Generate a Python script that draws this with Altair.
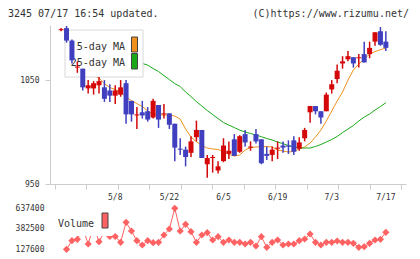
import altair as alt
import numpy as np
import pandas as pd

# ---- daily prices (trading-day index 0..60) ----
opens = [1098, 1100, 1088, 1062, 1061, 1042, 1042, 1045, 1043, 1040,
         1035, 1036, 1047, 1030, 1016, 1019, 1020, 1014, 1026, 1017,
         1018, 1008, 984, 983, 980, 995, 1002, 969, 975, 963,
         972, 979, 993, 981, 998, 985, 998, 993, 979, 978,
         984, 987, 987, 992, 984, 994, 1019, 1025, 1020, 1020,
         1041, 1051, 1066, 1070, 1072, 1071, 1075, 1075, 1087, 1097,
         1087]
highs = [1100, 1102, 1089, 1068, 1061, 1050, 1049, 1053, 1050, 1046,
         1045, 1050, 1050, 1030, 1024, 1030, 1024, 1032, 1026, 1027,
         1018, 1008, 994, 986, 996, 1011, 1002, 978, 978, 972,
         994, 991, 998, 997, 1002, 991, 1003, 993, 986, 986,
         991, 991, 992, 996, 995, 1004, 1025, 1025, 1020, 1038,
         1050, 1065, 1073, 1078, 1072, 1075, 1087, 1087, 1096, 1101,
         1097]
lows = [1097, 1086, 1066, 1057, 1040, 1037, 1036, 1037, 1029, 1029,
        1027, 1034, 1008, 1010, 1003, 1013, 1010, 1013, 1004, 1013,
        1003, 972, 978, 967, 976, 991, 975, 956, 961, 960,
        971, 974, 977, 980, 986, 982, 989, 969, 973, 972,
        974, 980, 979, 978, 982, 991, 1009, 1017, 1008, 1020,
        1037, 1047, 1061, 1068, 1062, 1062, 1067, 1071, 1083, 1083,
        1078]
closes = [1099, 1088, 1069, 1063, 1043, 1045, 1047, 1049, 1032, 1035,
          1040, 1043, 1017, 1017, 1017, 1016, 1012, 1030, 1012, 1018,
          1007, 985, 983, 976, 991, 1002, 975, 975, 976, 967,
          987, 982, 977, 996, 990, 986, 991, 970, 977, 983,
          985, 985, 986, 981, 990, 1002, 1025, 1020, 1014, 1036,
          1046, 1059, 1068, 1073, 1066, 1072, 1067, 1081, 1096, 1084,
          1081]

# 5-day moving average, days 3..60
ma5_start = 3
ma5 = [1075, 1072, 1062, 1054, 1051.9, 1046.6, 1042.8, 1040.9, 1038.5, 1033.7,
       1030.3, 1027.4, 1024.5, 1020.2, 1017.3, 1016.8, 1016.3, 1016.3, 1015.4, 1012.5,
       1002.9, 995.2, 990.7, 987.0, 984.6, 983.7, 983.2, 981.3, 978.4, 976.9,
       977.9, 982.7, 985.1, 985.6, 985.9, 986.1, 985.6, 982.7, 981.7, 980.8,
       981.3, 983.7, 985.6, 989.4, 995.2, 1001.9, 1010.6, 1020.2, 1029.8, 1038.5,
       1050.0, 1059.6, 1065.4, 1070.2, 1075.0, 1077.4, 1079.3, 1080.8]

# 25-day moving average, days 1..60
ma25_start = 1
ma25 = [1076.3, 1076.0, 1075.6, 1075.1, 1074.7, 1074.1, 1073.6, 1073.0, 1072.3, 1071.6,
        1070.8, 1069.8, 1068.6, 1067.4, 1066.0, 1064.4, 1061.1, 1058.2, 1054.3, 1050.5,
        1046.6, 1043.8, 1038.5, 1034.1, 1029.3, 1025.0, 1020.7, 1016.8, 1013.0, 1009.1,
        1006.7, 1004.3, 1001.9, 1000.0, 998.6, 997.1, 995.5, 993.8, 992.3, 990.4,
        988.8, 987.0, 985.6, 984.6, 984.6, 984.6, 986.1, 988.0, 990.4, 992.8,
        995.7, 999.5, 1002.9, 1006.3, 1010.6, 1014.4, 1017.3, 1021.2, 1024.5, 1028.2]

# daily volume, days 1..60
vol_start = 1
volume = [127600, 234500, 252000, 392400, 193500, 417300, 222100, 342700, 286800, 286800,
          214600, 463300, 355100, 234500, 181100, 234500, 209700, 214600, 305400, 380000,
          637400, 355100, 438400, 346400, 214600, 305400, 334000, 243200, 284300, 214600,
          243200, 214600, 214600, 193500, 214600, 168600, 284300, 152500, 214600, 243200,
          181100, 193500, 193500, 234500, 255700, 317800, 214600, 181100, 214600, 214600,
          230800, 214600, 214600, 202200, 152500, 159900, 202200, 243200, 252000, 339000]

date_pos = [10, 20, 30, 40, 50, 60]
date_labels = ["5/8", "5/22", "6/5", "6/19", "7/3", "7/17"]
price_ticks = [950, 1050]
vol_ticks = [127600, 382500, 637400]

# ---- styling ----
RED, BLUE = "#d40808", "#3f3fbf"
ORANGE, GREEN = "#f0901c", "#18a818"
VOLC = "#ff6262"
GRAY = "#cccccc"
TXT = "#333333"
MONO = "DejaVu Sans Mono"

W, H = 356, 224
PRICE_H = 159
X_LO, X_HI = -1.13, 62.8

candles = pd.DataFrame({"i": list(range(len(opens))), "o": opens, "h": highs,
                        "l": lows, "c": closes})
candles["dir"] = np.where(candles["c"] >= candles["o"], "up", "down")
ma5_df = pd.DataFrame({"i": list(range(ma5_start, ma5_start + len(ma5))), "v": ma5})
ma25_df = pd.DataFrame({"i": list(range(ma25_start, ma25_start + len(ma25))), "v": ma25})
vol_df = pd.DataFrame({"i": list(range(vol_start, vol_start + len(volume))), "vol": volume})
dates_df = pd.DataFrame({"i": date_pos, "t": date_labels})
one = pd.DataFrame({"k": [0]})

xs = alt.Scale(domain=[X_LO, X_HI], nice=False, zero=False)
x_axis = alt.Axis(values=[float(v) for v in np.linspace(X_LO, X_HI, 12)], labels=False,
                  tickSize=5, tickColor=GRAY, domainColor=GRAY, grid=False,
                  offset=PRICE_H - H, title=None)
X = alt.X("i:Q", scale=xs, axis=x_axis)

ps = alt.Scale(domain=[950, 1103], range=[PRICE_H, 0], nice=False, zero=False)
p_axis = alt.Axis(values=price_ticks, format="d", tickSize=5, tickColor=GRAY,
                  domainColor=GRAY, grid=False, labelPadding=6, labelFont=MONO,
                  labelFontSize=8, labelColor=TXT, title=None, orient="left")

vs = alt.Scale(domain=[127600, 637400], range=[H + 0.3, H - 40.7], nice=False, zero=False)
v_axis = alt.Axis(values=vol_ticks, format="d", domain=False, ticks=False, grid=False,
                  labelPadding=6, labelFont=MONO, labelFontSize=8, labelColor=TXT,
                  title=None, orient="left")

dir_color = alt.Color("dir:N", scale=alt.Scale(domain=["up", "down"], range=[RED, BLUE]),
                      legend=None)

line5 = alt.Chart(ma5_df).mark_line(color=ORANGE, strokeWidth=1).encode(
    x=X, y=alt.Y("v:Q", scale=ps, axis=p_axis))
line25 = alt.Chart(ma25_df).mark_line(color=GREEN, strokeWidth=1).encode(
    x=X, y=alt.Y("v:Q", scale=ps, axis=p_axis))

legend_box = alt.Chart(one).mark_rect(fill="white", stroke="#d8d8d8", strokeWidth=1).encode(
    x=alt.value(15), x2=alt.value(93), y=alt.value(5), y2=alt.value(52))
leg_txt5 = alt.Chart(one).mark_text(text="5-day MA", align="right", baseline="alphabetic",
                                    font=MONO, fontSize=10, color=TXT).encode(
    x=alt.value(75), y=alt.value(24.5))
leg_txt25 = alt.Chart(one).mark_text(text="25-day MA", align="right", baseline="alphabetic",
                                     font=MONO, fontSize=10, color=TXT).encode(
    x=alt.value(75), y=alt.value(41))
sw5 = alt.Chart(one).mark_rect(fill=ORANGE, stroke="#444444", strokeWidth=1).encode(
    x=alt.value(81.5), x2=alt.value(87.5), y=alt.value(12), y2=alt.value(27))
sw25 = alt.Chart(one).mark_rect(fill=GREEN, stroke="#444444", strokeWidth=1).encode(
    x=alt.value(81.5), x2=alt.value(87.5), y=alt.value(28.5), y2=alt.value(44))

wicks = alt.Chart(candles).mark_rule(strokeWidth=1.5).encode(
    x=X, y=alt.Y("l:Q", scale=ps, axis=p_axis), y2="h:Q", color=dir_color)
bodies = alt.Chart(candles).mark_bar(size=5).encode(
    x=X, y=alt.Y("o:Q", scale=ps, axis=p_axis), y2="c:Q", color=dir_color)

date_txt = alt.Chart(dates_df).mark_text(font=MONO, fontSize=8, color=TXT,
                                         baseline="middle").encode(
    x=X, y=alt.value(173), text="t:N")

head_l = alt.Chart(one).mark_text(text="3245 07/17 16:54 updated.", align="left",
                                  baseline="alphabetic", font=MONO, fontSize=10,
                                  color=TXT).encode(x=alt.value(-42), y=alt.value(-8.5))
head_r = alt.Chart(one).mark_text(text="(C)https://www.rizumu.net/", align="right",
                                  baseline="alphabetic", font=MONO, fontSize=10,
                                  color=TXT).encode(x=alt.value(359), y=alt.value(-8.5))

price_panel = alt.layer(line5, line25, legend_box, leg_txt5, leg_txt25, sw5, sw25,
                        wicks, bodies, date_txt, head_l, head_r)

VY = alt.Y("vol:Q", scale=vs, axis=v_axis)
vol_line = alt.Chart(vol_df).mark_line(color=VOLC, strokeWidth=1).encode(x=X, y=VY)
vol_pts = alt.Chart(vol_df).mark_point(shape="diamond", filled=True, size=52,
                                       color=VOLC, opacity=1).encode(x=X, y=VY)
vol_box = alt.Chart(one).mark_rect(fill="white").encode(
    x=alt.value(6), x2=alt.value(62), y=alt.value(184), y2=alt.value(211))
vol_txt = alt.Chart(one).mark_text(text="Volume", align="left", baseline="alphabetic",
                                   font=MONO, fontSize=10, color=TXT).encode(
    x=alt.value(8), y=alt.value(201.5))
vol_sw = alt.Chart(one).mark_rect(fill=VOLC, stroke="#444444", strokeWidth=1).encode(
    x=alt.value(52), x2=alt.value(58), y=alt.value(188), y2=alt.value(203))

vol_panel = alt.layer(vol_line, vol_pts, vol_box, vol_txt, vol_sw)

chart = alt.layer(price_panel, vol_panel).resolve_scale(y="independent").properties(
    width=W, height=H,
    padding={"left": 50, "top": 25, "right": 14, "bottom": 10},
    autosize=alt.AutoSizeParams(type="none"),
    background="white",
).configure_view(stroke=None)

chart.save("out.html", embed_options={"renderer": "svg", "actions": False})
